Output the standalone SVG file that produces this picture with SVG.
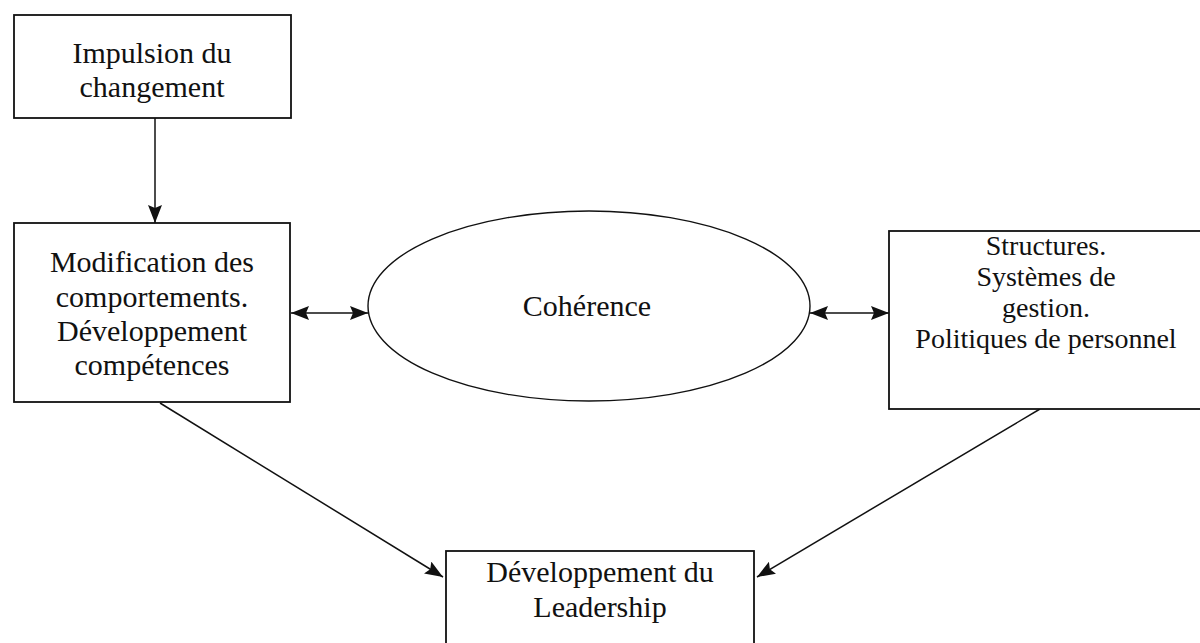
<svg xmlns="http://www.w3.org/2000/svg" width="1200" height="643" viewBox="0 0 1200 643">
  <style>
    .box { fill: #ffffff; stroke: #111111; stroke-width: 1.8; }
    .oval { fill: #ffffff; stroke: #111111; stroke-width: 1.4; }
    .lbl { font-family: "Liberation Serif", "Times New Roman", serif; font-size: 30px; fill: #111111; text-anchor: middle; }
    .lbl.sm { font-size: 28px; }
    .link { stroke: #111111; stroke-width: 1.5; fill: none; }
  </style>
  <defs>
    <marker id="head" viewBox="0 0 18 14" refX="18" refY="7" markerWidth="18" markerHeight="14" markerUnits="userSpaceOnUse" orient="auto-start-reverse">
      <path d="M0,0 L18,7 L0,14 L3,7 Z" fill="#111111"/>
    </marker>
  </defs>
  <rect width="1200" height="643" fill="#ffffff"/>

  <g id="connectors">
    <line class="link" x1="155" y1="118" x2="155" y2="223" marker-end="url(#head)"/>
    <line class="link" x1="291" y1="313" x2="368" y2="313" marker-start="url(#head)" marker-end="url(#head)"/>
    <line class="link" x1="810" y1="313" x2="889" y2="313" marker-start="url(#head)" marker-end="url(#head)"/>
    <line class="link" x1="160" y1="403" x2="443" y2="577" marker-end="url(#head)"/>
    <line class="link" x1="1040" y1="409" x2="757" y2="577" marker-end="url(#head)"/>
  </g>

  <g id="impulsion">
    <rect class="box" x="14" y="15" width="277" height="103"/>
    <text class="lbl" x="152" y="63">Impulsion du</text>
    <text class="lbl" x="152" y="97">changement</text>
  </g>

  <g id="modification">
    <rect class="box" x="14" y="223" width="276" height="179"/>
    <text class="lbl" x="152" y="272">Modification des</text>
    <text class="lbl" x="152" y="307">comportements.</text>
    <text class="lbl" x="152" y="341">Développement</text>
    <text class="lbl" x="152" y="375">compétences</text>
  </g>

  <g id="coherence">
    <ellipse class="oval" cx="589" cy="306" rx="221" ry="95"/>
    <text class="lbl" x="587" y="316">Cohérence</text>
  </g>

  <g id="structures">
    <rect class="box" x="889" y="231" width="320" height="178"/>
    <text class="lbl sm" x="1046" y="255">Structures.</text>
    <text class="lbl sm" x="1046" y="286">Systèmes de</text>
    <text class="lbl sm" x="1046" y="317">gestion.</text>
    <text class="lbl sm" x="1046" y="348">Politiques de personnel</text>
  </g>

  <g id="leadership">
    <rect class="box" x="446" y="551" width="308" height="110"/>
    <text class="lbl" x="600" y="582">Développement du</text>
    <text class="lbl" x="600" y="617">Leadership</text>
  </g>
</svg>
